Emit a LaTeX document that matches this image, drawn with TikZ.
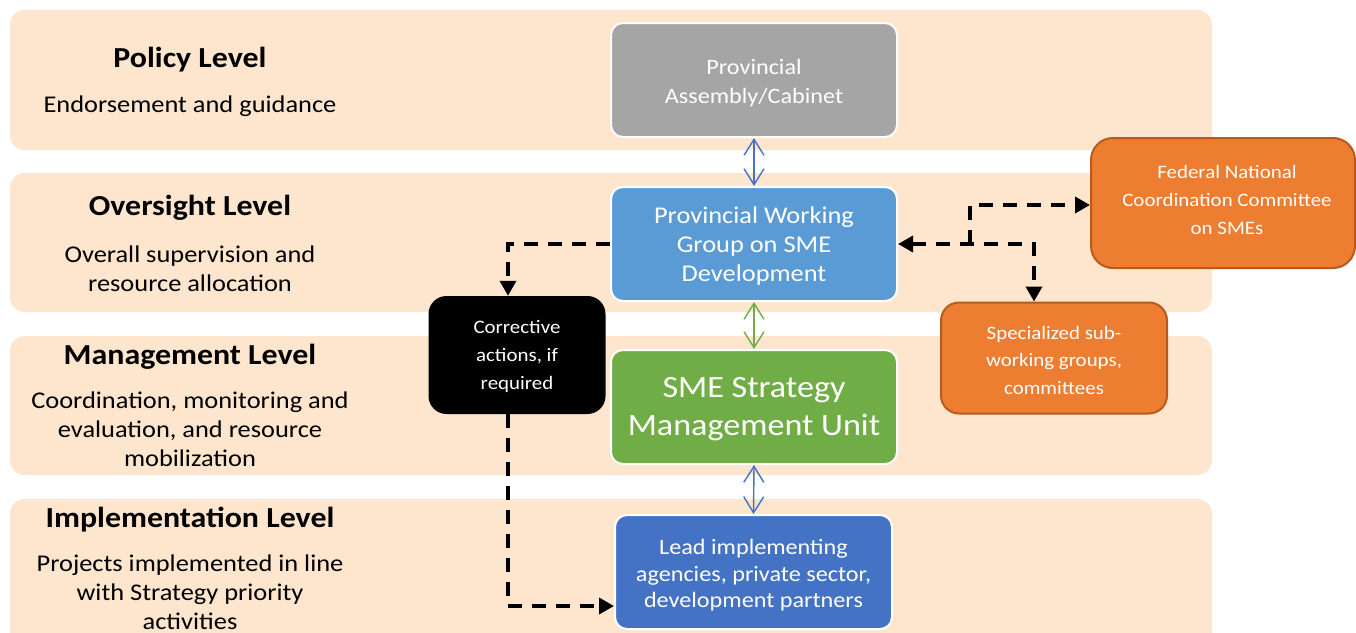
\documentclass[tikz,border=0pt]{standalone}
\usepackage{fontspec}
\setmainfont{Carlito}[FakeStretch=1.1]
\usetikzlibrary{arrows.meta}
\definecolor{peach}{HTML}{FDE6CD}
\definecolor{cabgray}{HTML}{A5A5A5}
\definecolor{pwgblue}{HTML}{5B9BD5}
\definecolor{smugreen}{HTML}{70AD47}
\definecolor{leadblue}{HTML}{4472C4}
\definecolor{orangefill}{HTML}{ED7D31}
\definecolor{orangeline}{HTML}{B85A1E}
% an empty leading line that sets a box's text a little lower
\newcommand{\topgap}[1]{\\[#1]}
\tikzset{
  band/.style={fill=peach, rounded corners=15pt},
  head/.style={inner sep=0pt, align=center, font=\bfseries\fontsize{29}{35}\selectfont},
  desc/.style={inner sep=0pt, align=center, font=\fontsize{24}{29}\selectfont},
  unitbox/.style={draw=white, line width=2pt, rounded corners=12pt, text=white,
    align=center, inner sep=0pt, minimum width=286pt, minimum height=114pt},
  orangebox/.style={draw=orangeline, fill=orangefill, line width=2pt, rounded corners=22pt,
    text=white, align=center, inner sep=0pt},
  linkarrow/.style={line width=1.4pt, {Straight Barb[length=16pt,width=20pt]}-{Straight Barb[length=16pt,width=20pt]}},
  flow/.style={line width=3.5pt, dash pattern=on 14pt off 10pt, -{Triangle[length=15pt,width=16pt]}},
  twoway/.style={line width=3.5pt, dash pattern=on 14pt off 10pt, {Triangle[length=15pt,width=16pt]}-{Triangle[length=15pt,width=16pt]}}
}
\begin{document}
\begin{tikzpicture}[x=1pt,y=-1pt]
\useasboundingbox (0,0) rectangle (1356,632);
\clip (0,0) rectangle (1356,632);
\fill[white] (0,0) rectangle (1356,632);

% level bands
\fill[band] (10,10) rectangle (1212,150);
\fill[band] (10,173) rectangle (1212,312);
\fill[band] (10,336) rectangle (1212,475);
\fill[band] (10,499) rectangle (1212,660);

% level titles and roles
\node[head] (polh) at (190,60) {Policy Level};
\node[desc] (pold) at (190,106) {Endorsement and guidance};
\node[head] (ovh) at (190,208) {Oversight Level};
\node[desc] (ovd) at (190,268.5) {Overall supervision and\\resource allocation};
\node[head] (mgh) at (190,357) {Management Level};
\node[desc] (mgd) at (190,429) {Coordination, monitoring and\\evaluation, and resource\\mobilization};
\node[head] (imh) at (190,520) {Implementation Level};
\node[desc] (imd) at (190,592) {Projects implemented in line\\with Strategy priority\\activities};

% main chain of bodies
\node[unitbox, fill=cabgray, font=\fontsize{22}{29}\selectfont] (cab) at (754,80) {\topgap{-8pt}Provincial\\Assembly/Cabinet};
\node[unitbox, fill=pwgblue, font=\fontsize{24}{29}\selectfont] (pwg) at (754,244) {\topgap{-9pt}Provincial Working\\Group on SME\\Development};
\node[unitbox, fill=smugreen, font=\fontsize{31}{38}\selectfont] (smu) at (754,407) {\topgap{-13pt}SME Strategy\\Management Unit};
\node[unitbox, fill=leadblue, minimum width=277pt, font=\fontsize{22}{26.5}\selectfont] (lead) at (753.5,572) {\topgap{-4.5pt}Lead implementing\\agencies, private sector,\\development partners};

% side bodies
\node[fill=black, rounded corners=18pt, minimum width=177pt, minimum height=118pt,
  text=white, align=center, inner sep=0pt, font=\fontsize{19}{28}\selectfont] (corr) at (517,355) {\topgap{-12pt}Corrective\\actions, if\\required};
\node[orangebox, minimum width=264pt, minimum height=130pt] (fed) at (1223,203) {};
\node[text=white, align=center, inner sep=0pt, font=\fontsize{19}{28}\selectfont] (fedtext) at (1227,199.5) {Federal National\\Coordination Committee\\on SMEs};
\node[orangebox, minimum width=226pt, minimum height=111pt, rounded corners=18pt,
  font=\fontsize{19}{27.5}\selectfont] (spec) at (1054,358) {\topgap{-9.5pt}Specialized sub-\\working groups,\\committees};

% two-way links along the chain
\draw[linkarrow, leadblue] (cab.south) -- (pwg.north);
\draw[linkarrow, smugreen] (pwg.south) -- (smu.north);
\draw[linkarrow, leadblue] (smu.south) -- (lead.north);

% corrective loop
\coordinate (c1) at (508,244);
\coordinate (c2) at (508,606);
\draw[flow] (pwg.west) -- (c1) -- (c1 |- corr.north);
\draw[flow] (c1 |- corr.south) -- (c2) -- (c2 -| lead.west);

% links to federal committee and sub-groups
\coordinate (r1) at (1034,244);
\coordinate (r2) at (970,244);
\draw[twoway] (pwg.east) -- (r1) -- (r1 |- spec.north);
\draw[flow] (r2) -- (970,205) -- (fed.west |- 0,205);
\end{tikzpicture}
\end{document}
